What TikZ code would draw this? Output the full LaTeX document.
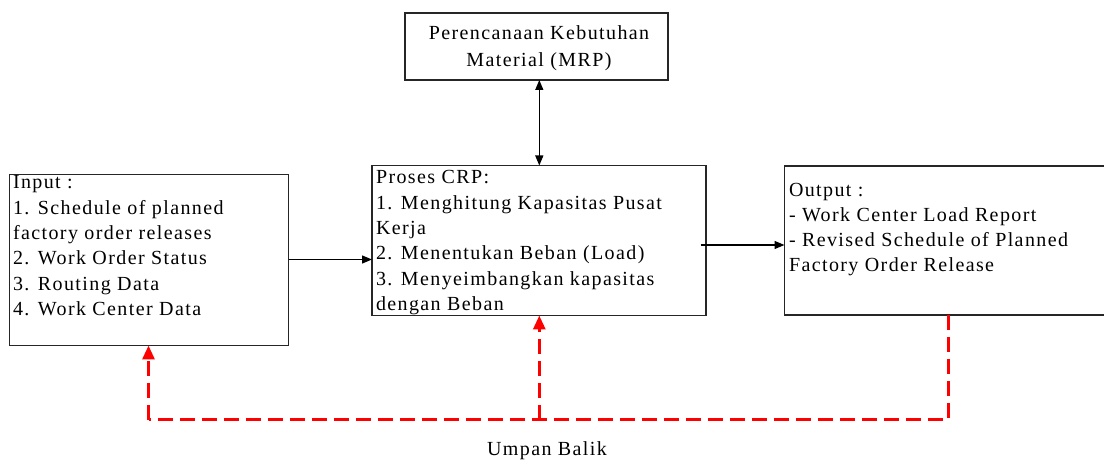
\documentclass[tikz,border=0pt]{standalone}
\usepackage{fontspec}
\setmainfont{Liberation Serif}[LetterSpace=7]
\usetikzlibrary{arrows.meta}
\begin{document}
\begin{tikzpicture}[x=1pt,y=-1pt,
  box/.style={draw=black!85, line width=1.3pt, inner sep=0pt, outer sep=0pt, anchor=north west},
  txt/.style={inner sep=0pt, outer sep=0pt, align=left, font=\fontsize{20}{25.3}\selectfont},
  ctxt/.style={inner sep=0pt, outer sep=0pt, align=center, font=\fontsize{20}{27}\selectfont},
  link/.style={line width=1.3pt, -{Triangle[length=10pt,width=8pt]}},
  both/.style={line width=1.3pt, {Triangle[length=10pt,width=8pt]}-{Triangle[length=10pt,width=8pt]}},
  fb/.style={draw=red, line width=3pt, dash pattern=on 15pt off 7pt},
  fbarrow/.style={fb, -{Triangle[length=14pt,width=12pt]}}
]
\useasboundingbox (0,0) rectangle (1104,462);

% boxes
\node[box, minimum width=263pt, minimum height=67pt] (mrp) at (405,13) {};
\node[box, minimum width=279pt, minimum height=171pt] (inp) at (9.5,174.5) {};
\node[box, minimum width=334pt, minimum height=150pt] (crp) at (372,165.5) {};
\node[box, minimum width=330pt, minimum height=149pt] (out) at (784.5,166) {};

% texts (anchored on the baseline of their last line)
\node[ctxt, anchor=base] (mrpt) at (539,67) {Perencanaan Kebutuhan\\Material (MRP)};
\node[txt, anchor=base west] (inpt) at (13,315.5) {Input :\\1. Schedule of planned\\factory order releases\\2. Work Order Status\\3. Routing Data\\4. Work Center Data};
\node[txt, anchor=base west] (crpt) at (376,310.5) {Proses CRP:\\1. Menghitung Kapasitas Pusat\\Kerja\\2. Menentukan Beban (Load)\\3. Menyeimbangkan kapasitas\\dengan Beban};
\node[txt, anchor=base west] (outt) at (789,272) {Output :\\- Work Center Load Report\\- Revised Schedule of Planned\\Factory Order Release};
\node[ctxt, anchor=base] (fbt) at (547,456) {Umpan Balik};

% flow connectors
\coordinate (c1) at (0,259.5);
\coordinate (c2) at (700.5,245);
\draw[link] (inp.east |- c1) -- (crp.west |- c1);
\draw[link] (c2) -- (out.west |- c2);
\draw[both] (mrp.south -| 539.3,0) -- (crp.north -| 539.3,0);

% feedback loop
\coordinate (fbR) at (948,420);
\coordinate (fbM) at (539.3,420);
\coordinate (fbL) at (148.5,420);
\draw[fb] (out.south -| fbR) -- (fbR) -- (fbL);
\draw[fbarrow] (fbL) -- (inp.south -| fbL);
\draw[fbarrow] (fbM) -- (crp.south -| fbM);
\end{tikzpicture}
\end{document}
